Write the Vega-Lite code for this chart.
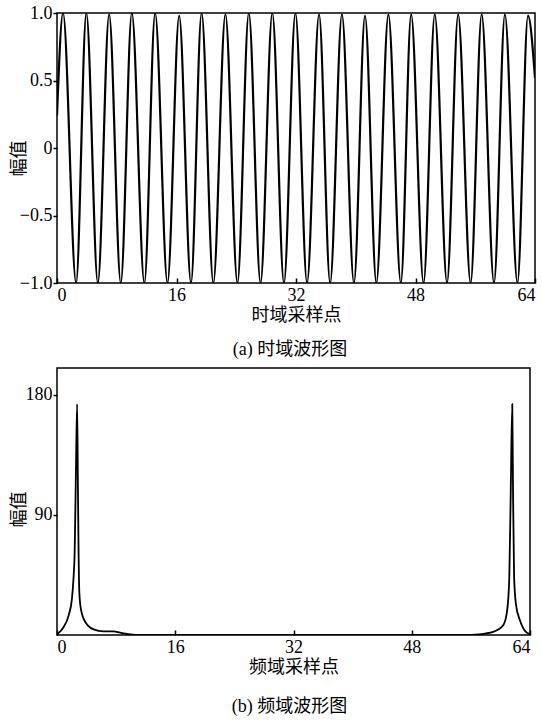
{
  "$schema": "https://vega.github.io/schema/vega-lite/v6.json",
  "background": "white",
  "padding": {"left": 9, "top": 3, "right": 0, "bottom": 0},
  "config": {
    "view": {"stroke": "black", "strokeWidth": 1.5},
    "axis": {
      "labelFont": "Liberation Serif, Times New Roman, DejaVu Serif, serif",
      "labelFontSize": 18,
      "labelColor": "black",
      "titleFont": "Noto Sans CJK SC",
      "titleFontSize": 18,
      "titleFontWeight": "normal",
      "titleColor": "black",
      "domain": false,
      "grid": false,
      "tickColor": "black",
      "tickWidth": 1.5
    },
    "title": {
      "font": "Liberation Serif, Times New Roman, Noto Sans CJK SC, serif",
      "fontSize": 18,
      "fontWeight": "normal",
      "color": "black",
      "orient": "bottom"
    }
  },
  "vconcat": [
    {
      "width": 478,
      "height": 270,
      "title": {"text": "(a) 时域波形图", "offset": 17, "dx": -6},
      "data": {
        "values": [
          {"x": 0, "y": 0.24},
          {"x": 0.81, "y": 1.0},
          {"x": 2.56, "y": -1.0},
          {"x": 3.93, "y": 1.0},
          {"x": 5.47, "y": -1.0},
          {"x": 6.98, "y": 0.99},
          {"x": 8.54, "y": -1.0},
          {"x": 10.02, "y": 1.0},
          {"x": 11.70, "y": -1.0},
          {"x": 13.14, "y": 1.0},
          {"x": 14.79, "y": -1.0},
          {"x": 16.36, "y": 0.98},
          {"x": 17.94, "y": -1.0},
          {"x": 19.36, "y": 1.0},
          {"x": 20.93, "y": -1.0},
          {"x": 22.55, "y": 0.99},
          {"x": 24.16, "y": -1.0},
          {"x": 25.68, "y": 1.0},
          {"x": 27.25, "y": -1.0},
          {"x": 28.83, "y": 1.0},
          {"x": 30.39, "y": -1.0},
          {"x": 31.92, "y": 1.0},
          {"x": 33.48, "y": -1.0},
          {"x": 35.09, "y": 0.99},
          {"x": 36.57, "y": -1.0},
          {"x": 38.15, "y": 0.99},
          {"x": 39.76, "y": -1.0},
          {"x": 41.24, "y": 0.98},
          {"x": 42.76, "y": -1.0},
          {"x": 44.37, "y": 0.99},
          {"x": 46.04, "y": -1.0},
          {"x": 47.42, "y": 0.99},
          {"x": 49.08, "y": -1.0},
          {"x": 50.58, "y": 0.99},
          {"x": 52.22, "y": -1.0},
          {"x": 53.71, "y": 0.99},
          {"x": 55.38, "y": -1.0},
          {"x": 56.86, "y": 0.99},
          {"x": 58.51, "y": -1.0},
          {"x": 59.97, "y": 0.99},
          {"x": 61.65, "y": -1.0},
          {"x": 63.06, "y": 0.98},
          {"x": 64, "y": 0.52}
        ]
      },
      "mark": {"type": "line", "interpolate": "monotone", "color": "black", "strokeWidth": 2.2, "clip": true},
      "encoding": {
        "x": {
          "field": "x", "type": "quantitative",
          "scale": {"domain": [0, 64], "nice": false, "zero": false},
          "axis": {"values": [0, 16, 32, 48, 64], "title": "时域采样点", "tickSize": -5, "labelPadding": 8, "titlePadding": 2}
        },
        "y": {
          "field": "y", "type": "quantitative",
          "scale": {"domain": [-1, 1], "nice": false},
          "axis": {
            "values": [-1, -0.5, 0, 0.5, 1],
            "labelExpr": "datum.value == 0 ? '0' : format(datum.value, '.1f')",
            "title": "幅值", "tickSize": 4, "labelPadding": 1,
            "titleX": -38, "titleY": 145, "titleBaseline": "middle", "titleAlign": "center"
          }
        }
      }
    },
    {
      "width": 473,
      "height": 267,
      "title": {"text": "(b) 频域波形图", "offset": 22, "dx": -4},
      "data": {
        "values": [
          {"x": 0, "y": 0.5},
          {"x": 0.5, "y": 3},
          {"x": 0.9, "y": 6},
          {"x": 1.58, "y": 14.7},
          {"x": 2.02, "y": 27},
          {"x": 2.25, "y": 44},
          {"x": 2.39, "y": 62},
          {"x": 2.55, "y": 118},
          {"x": 2.72, "y": 173},
          {"x": 2.82, "y": 118},
          {"x": 2.92, "y": 62},
          {"x": 3.02, "y": 32},
          {"x": 3.23, "y": 19.6},
          {"x": 3.83, "y": 9.7},
          {"x": 4.95, "y": 4.2},
          {"x": 6.3, "y": 2.7},
          {"x": 7.64, "y": 2.7},
          {"x": 8.54, "y": 1.7},
          {"x": 9.9, "y": 0.4},
          {"x": 11.2, "y": 0},
          {"x": 16, "y": 0},
          {"x": 32, "y": 0},
          {"x": 48, "y": 0},
          {"x": 55, "y": 0},
          {"x": 57.1, "y": 0.5},
          {"x": 59.0, "y": 2.3},
          {"x": 60.4, "y": 7.5},
          {"x": 60.9, "y": 18},
          {"x": 61.2, "y": 43},
          {"x": 61.4, "y": 110},
          {"x": 61.6, "y": 173},
          {"x": 61.7, "y": 110},
          {"x": 61.85, "y": 43},
          {"x": 62.1, "y": 23},
          {"x": 62.6, "y": 11.6},
          {"x": 63.2, "y": 4},
          {"x": 64, "y": 0.5}
        ]
      },
      "mark": {"type": "line", "interpolate": "monotone", "color": "black", "strokeWidth": 1.8, "clip": true},
      "encoding": {
        "x": {
          "field": "x", "type": "quantitative",
          "scale": {"domain": [0, 64], "nice": false, "zero": false},
          "axis": {"values": [0, 16, 32, 48, 64], "title": "频域采样点", "tickSize": -5, "labelPadding": 8, "titlePadding": 2}
        },
        "y": {
          "field": "y", "type": "quantitative",
          "scale": {"domain": [0, 200], "nice": false},
          "axis": {
            "values": [90, 180],
            "title": "幅值", "tickSize": 4, "labelPadding": 1,
            "titleX": -38, "titleY": 141, "titleBaseline": "middle", "titleAlign": "center"
          }
        }
      }
    }
  ],
  "spacing": 7
}
